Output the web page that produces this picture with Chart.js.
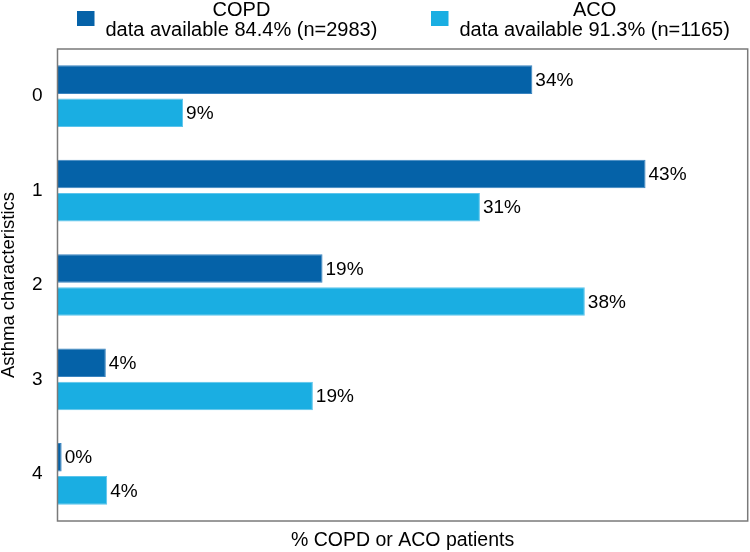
<!DOCTYPE html>
<html>
<head>
<meta charset="utf-8">
<script src="https://cdn.jsdelivr.net/npm/chart.js@4"></script>
<style>
  html, body { margin: 0; padding: 0; background: #fff; }
  canvas { display: block; }
</style>
</head>
<body>
<canvas id="asthma_chart" width="750" height="552"></canvas>
<script>
// values (bar lengths), labels as printed
const categories = ['0', '1', '2', '3', '4'];
const seriesNames = ['COPD', 'ACO'];
const seriesNotes = ['data available 84.4% (n=2983)', 'data available 91.3% (n=1165)'];
const copdValues = [34.4, 42.6, 19.2, 3.5, 0.3];
const acoValues = [9.1, 30.6, 38.2, 18.5, 3.6];
const copdLabels = ['34%', '43%', '19%', '4%', '0%'];
const acoLabels = ['9%', '31%', '38%', '19%', '4%'];
const xTitle = '% COPD or ACO patients';
const yTitle = 'Asthma characteristics';

const COPD_COLOR = '#0562a8';
const ACO_COLOR = '#1aaee2';
const FONT = "'Liberation Sans', Arial, sans-serif";

Chart.defaults.font.family = FONT;
Chart.defaults.color = '#000';

// grey box round the plot area
const framePlugin = {
    id: 'frame',
    afterDatasetsDraw(chart) {
        const a = chart.chartArea;
        const ctx = chart.ctx;
        ctx.save();
        ctx.strokeStyle = '#7a7a7a';
        ctx.lineWidth = 1.5;
        ctx.strokeRect(a.left, a.top, a.right - a.left, a.bottom - a.top);
        ctx.restore();
    }
};

// percent text at the end of each bar
const barLabelPlugin = {
    id: 'barLabels',
    afterDatasetsDraw(chart) {
        const ctx = chart.ctx;
        ctx.save();
        ctx.font = '19px ' + FONT;
        ctx.fillStyle = '#000';
        ctx.textBaseline = 'middle';
        ctx.textAlign = 'left';
        chart.data.datasets.forEach((ds, i) => {
            const meta = chart.getDatasetMeta(i);
            meta.data.forEach((bar, j) => {
                ctx.fillText(ds.barLabels[j], bar.x + 3, bar.y + 1);
            });
        });
        ctx.restore();
    }
};

// two-line legend at the top
const legendPlugin = {
    id: 'twoLineLegend',
    afterDraw(chart) {
        const ctx = chart.ctx;
        const boxX = [77, 431];
        ctx.save();
        ctx.font = '20px ' + FONT;
        ctx.textAlign = 'center';
        ctx.textBaseline = 'alphabetic';
        chart.data.datasets.forEach((ds, i) => {
            ctx.fillStyle = ds.backgroundColor;
            ctx.fillRect(boxX[i], 11, 17.5, 15);
            const w = Math.max(ctx.measureText(seriesNames[i]).width, ctx.measureText(seriesNotes[i]).width);
            const cx = boxX[i] + 17.5 + 11 + w / 2;
            ctx.fillStyle = '#000';
            ctx.fillText(seriesNames[i], cx, 16);
            ctx.fillText(seriesNotes[i], cx, 36);
        });
        ctx.restore();
    }
};

var ctx = document.getElementById('asthma_chart').getContext('2d');
var myChart = new Chart(ctx, {
    type: 'bar',
    data: {
        labels: categories,
        datasets: [
            {
                label: seriesNames[0],
                data: copdValues,
                barLabels: copdLabels,
                backgroundColor: COPD_COLOR,
                borderColor: '#3a84c0',
                borderWidth: 1,
                categoryPercentage: 0.703,
                barPercentage: 0.86
            },
            {
                label: seriesNames[1],
                data: acoValues,
                barLabels: acoLabels,
                backgroundColor: ACO_COLOR,
                borderColor: '#5cc4ec',
                borderWidth: 1,
                categoryPercentage: 0.703,
                barPercentage: 0.86
            }
        ]
    },
    options: {
        indexAxis: 'y',
        responsive: false,
        animation: false,
        layout: { padding: { top: 49, right: 2.3, left: 0, bottom: 0 } },
        plugins: {
            legend: { display: false },
            tooltip: { enabled: false }
        },
        scales: {
            x: {
                min: 0,
                max: 50,
                grid: { display: false, drawTicks: false },
                border: { display: false },
                ticks: { display: false },
                title: {
                    display: true,
                    text: xTitle,
                    font: { size: 19.5 },
                    padding: 0
                },
                afterFit(scale) { scale.height = 31; }
            },
            y: {
                grid: { display: false, drawTicks: false },
                border: { display: false },
                ticks: { font: { size: 19 }, padding: 15 },
                title: {
                    display: true,
                    text: yTitle,
                    font: { size: 18.5, lineHeight: 1 },
                    padding: 0
                },
                afterFit(scale) { scale.width = 57.5; }
            }
        }
    },
    plugins: [framePlugin, barLabelPlugin, legendPlugin]
});
</script>
</body>
</html>
